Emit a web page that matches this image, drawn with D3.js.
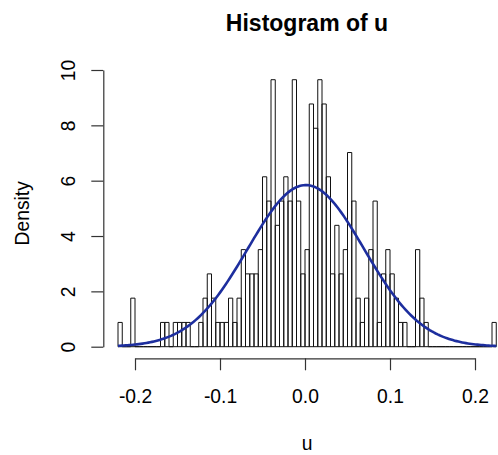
<!DOCTYPE html>
<html><head><meta charset="utf-8">
<script src="https://cdn.jsdelivr.net/npm/d3@7/dist/d3.min.js"></script>
<style>body{margin:0;background:#fff} svg{display:block}</style>
</head><body><svg id="c" width="498" height="455"></svg>
<script>
// ---- data ----
const binStart = -0.22;
const binWidth = 0.005;
const counts = [1,0,0,2,0,0,0,0,0,0, 1,1,0,1,1,1,1,0,0,1, 2,3,2,1,1,1,2,1,2,4,
                3,3,3,4,7,6,11,5,6,7, 6,11,6,3,4,10,9,11,10,7, 3,5,3,4,8,6,2,1,2,4,
                6,1,3,4,3,2,1,1,0,0, 4,2,1,0,0,0,0,0,0,0, 0,0,0,0,0,0,0,0,1];
const xTicks = [-0.2, -0.1, 0.0, 0.1, 0.2];
const xTickLabels = ["-0.2", "-0.1", "0.0", "0.1", "0.2"];
const yTicks = [0, 2, 4, 6, 8, 10];
const yTickLabels = ["0", "2", "4", "6", "8", "10"];
const curveMean = 0.001;
const curveSd = 0.0683;
const titleText = "Histogram of u";
const xLabelText = "u";
const yLabelText = "Density";

// ---- drawing ----
const svg = d3.select("#c");
const font = "'Liberation Sans', Arial, Helvetica, sans-serif";
const n = d3.sum(counts);
const bins = counts.map((c, i) => ({x0: binStart + i * binWidth, x1: binStart + (i + 1) * binWidth, d: c / (n * binWidth)}));

const x = d3.scaleLinear().domain([-0.2, 0.2]).range([135, 475]);
const y = d3.scaleLinear().domain([0, 10]).range([346.7, 70]);

// bars (including empty bins as baseline lines)
svg.append("g").selectAll("path").data(bins).join("path")
  .attr("d", b => `M${x(b.x0)},${y(0)}V${y(b.d)}H${x(b.x1)}V${y(0)}Z`)
  .attr("fill", "none").attr("stroke", "#111").attr("stroke-width", 1);

// normal curve
const xmin = binStart, xmax = binStart + counts.length * binWidth;
const pts = d3.range(0, 201).map(i => {
  const v = xmin + (xmax - xmin) * i / 200;
  return [v, Math.exp(-0.5 * ((v - curveMean) / curveSd) ** 2) / (curveSd * Math.sqrt(2 * Math.PI))];
});
svg.append("path").datum(pts)
  .attr("d", d3.line().x(p => x(p[0])).y(p => y(p[1])))
  .attr("fill", "none").attr("stroke", "#1d2e9e").attr("stroke-width", 2.6);

// x axis
const gx = svg.append("g").attr("transform", "translate(0,358.3)")
  .call(d3.axisBottom(x).tickValues(xTicks).tickFormat((d, i) => xTickLabels[i]).tickSize(12).tickSizeOuter(0));
gx.select(".domain").attr("stroke", "#333").attr("stroke-width", 1.2);
gx.selectAll(".tick line").attr("stroke", "#333").attr("stroke-width", 1.2);
gx.selectAll(".tick text").attr("font-family", font).attr("font-size", 19.3).attr("fill", "#000")
  .attr("dy", null).attr("y", 44.4);

// y axis
const gy = svg.append("g").attr("transform", "translate(103.3,0)")
  .call(d3.axisLeft(y).tickValues(yTicks).tickFormat((d, i) => yTickLabels[i]).tickSize(12).tickSizeOuter(0));
gy.select(".domain").attr("stroke", "#333").attr("stroke-width", 1.2);
gy.selectAll(".tick line").attr("stroke", "#333").attr("stroke-width", 1.2);
gy.selectAll(".tick text").attr("font-family", font).attr("font-size", 19.3).attr("fill", "#000")
  .attr("text-anchor", "middle").attr("dy", null).attr("x", 0).attr("y", -28.5)
  .attr("transform", "rotate(-90)");

// title and labels
svg.append("text").attr("x", 307).attr("y", 31).attr("text-anchor", "middle")
  .attr("font-family", font).attr("font-size", 23).attr("font-weight", "bold").text(titleText);
svg.append("text").attr("x", 307).attr("y", 450).attr("text-anchor", "middle")
  .attr("font-family", font).attr("font-size", 19.3).text(xLabelText);
svg.append("text").attr("transform", "translate(29,213.3) rotate(-90)").attr("text-anchor", "middle")
  .attr("font-family", font).attr("font-size", 19.3).text(yLabelText);
</script>
</body></html>
